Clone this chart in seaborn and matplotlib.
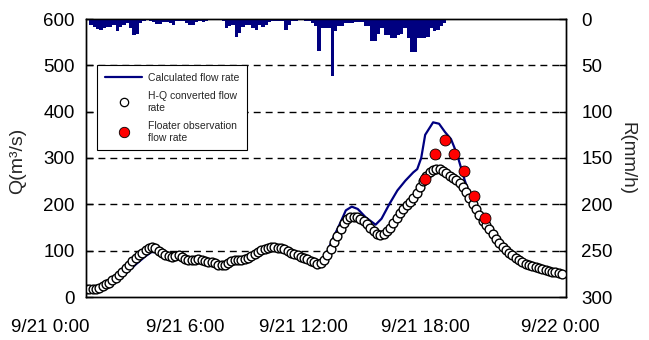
import matplotlib
matplotlib.use("Agg")
import numpy as np
import pandas as pd
import matplotlib.pyplot as plt
import matplotlib.transforms as mtransforms
from matplotlib.lines import Line2D
import seaborn as sns

# ---------------- data ----------------
# rainfall (mm/h), 10-minute bins starting 9/21 0:00
rain_mm = [1, 6, 9, 11, 12, 10, 9, 9, 6, 13, 9, 6, 4, 10, 17, 16, 4, 2, 1, 2,
           3, 5, 5, 3, 3, 4, 7, 2, 2, 2, 4, 7, 6, 3, 2,
           3, 2, 1, 1, 1, 1, 2, 10, 8, 6, 19, 15, 9, 7, 7, 10, 12, 6, 9, 7,
           3, 2, 2, 2, 2, 12, 6, 2, 2, 1, 1, 2, 2, 4, 8,
           34, 10, 10, 10, 62, 13, 8, 8, 4, 4, 4, 3, 3, 3, 8, 8, 24, 24, 16, 10,
           17, 17, 20, 20, 17, 16, 10, 20, 36, 36, 21, 20, 20, 19, 10, 13, 12, 8, 4]
rain_hours = [i / 6 for i in range(len(rain_mm))]

# H-Q converted flow rate (m3/s), every 10 minutes from 0:00 to 24:00
hq_q = [17, 17, 17, 18, 20, 23, 27, 31, 36, 42, 48, 55, 62, 70, 77, 84, 90, 96,
        101, 105, 107, 105, 100, 95, 91, 88, 86, 88, 90, 86, 82, 80, 79, 80, 81, 79,
        77, 76, 75, 73, 70, 68, 69, 73, 77, 79, 80, 80, 82, 84, 88, 93, 97, 101,
        104, 106, 107, 107, 106, 106, 104, 100, 96, 93, 90, 87, 84, 81, 78, 75, 72, 73,
        80, 90, 103, 118, 132, 147, 160, 168, 172, 173, 172, 169, 164, 157, 150, 143, 137, 134,
        136, 142, 150, 160, 170, 181, 191, 199, 206, 214, 225, 237, 250, 261, 269, 275, 277, 276,
        273, 268, 262, 257, 252, 246, 238, 226, 213, 200, 190, 178, 165, 156, 146, 136, 126, 117,
        108, 102, 96, 91, 85, 80, 76, 72, 69, 66, 64, 62, 60, 58, 56, 55, 53, 51, 50]
hq_hours = [i / 6 for i in range(len(hq_q))]

# calculated flow rate (m3/s)
calc_hours = [0, 0.5, 1, 1.5, 2, 2.5, 3, 3.3, 3.7, 4, 4.5, 5, 5.5, 6, 6.5, 7, 7.5, 8,
              8.5, 9, 9.5, 10, 10.5, 11, 11.5, 11.8, 12, 12.4, 12.8, 13.1, 13.4, 13.7,
              14.1, 14.6, 14.9, 15.3, 15.7, 16.1, 16.5, 16.7, 16.9, 17.1, 17.5, 17.8,
              18.1, 18.4, 18.7, 19.1, 19.4, 19.8, 20.1, 20.5, 21, 21.5, 22, 22.5, 23, 23.5, 24]
calc_q = [14, 15, 20, 32, 50, 70, 88, 97, 96, 92, 87, 86, 84, 80, 77, 72, 76, 82,
          92, 102, 106, 105, 97, 87, 78, 74, 80, 122, 158, 187, 195, 190,
          172, 156, 169, 201, 230, 251, 269, 276, 300, 350, 377, 374,
          356, 341, 309, 251, 215, 187, 158, 133, 110, 93, 78, 68, 61, 55, 50]

# floater observation flow rate (m3/s)
float_hours = [17.1, 17.6, 18.1, 18.55, 19.05, 19.55, 20.1]
float_q = [254, 309, 339, 309, 272, 217, 171]

xtick_hours = [0, 6, 12, 18, 24]
xtick_labels = ["9/21 0:00", "9/21 6:00", "9/21 12:00", "9/21 18:00", "9/22 0:00"]
legend_labels = ["Calculated flow rate", "H-Q converted flow\nrate",
                 "Floater observation\nflow rate"]

# ---------------- style ----------------
sns.set_style("white")
plt.rcParams["font.family"] = ["Liberation Sans", "DejaVu Sans"]

fig = plt.figure(figsize=(6.49, 3.40), dpi=100)
ax = fig.add_axes([86 / 649, 1 - 297 / 340, 480 / 649, 278 / 340])
ax.set_facecolor("white")
fig.patch.set_facecolor("white")

calc_df = pd.DataFrame({"t": calc_hours, "q": calc_q})
hq_df = pd.DataFrame({"t": hq_hours, "q": hq_q})
fl_df = pd.DataFrame({"t": float_hours, "q": float_q})

sns.lineplot(data=calc_df, x="t", y="q", ax=ax, color="#000080", linewidth=1.6,
             zorder=3, legend=False)
sns.scatterplot(data=hq_df, x="t", y="q", ax=ax, marker="o", s=40,
                facecolor="white", edgecolor="black", linewidth=1.0, zorder=4,
                legend=False)
sns.scatterplot(data=fl_df, x="t", y="q", ax=ax, marker="o", s=62,
                color="#ff0000", edgecolor="black", linewidth=0.6, zorder=5,
                legend=False)

ax.set_xlim(0, 24.2)
ax.set_ylim(0, 600)
ax.set_yticks(range(0, 601, 100))
ax.set_xticks(xtick_hours)
ax.set_xticks([3, 9, 15, 21], minor=True)
ax.set_xticklabels(xtick_labels)
ax.set_xlabel("")
ax.set_ylabel("Q(m³/s)", fontsize=14)
ax.yaxis.set_label_coords(-0.125, 0.49)

for yv in range(100, 600, 100):
    ax.axhline(yv, color="black", linewidth=1.0, linestyle=(0, (5, 3.6)), zorder=1)

ax.tick_params(axis="y", direction="in", length=5, width=1, labelsize=13.5, pad=8,
               colors="black")
ax.tick_params(axis="x", which="both", direction="in", length=7, width=1,
               labelsize=13.5, pad=16, colors="black")
for sp in ax.spines.values():
    sp.set_color("black")
    sp.set_linewidth(1.0)

# shift x tick labels to match reference placement
offsets_px = [-36, -20, -21, -18, -2]
for lab, off in zip(ax.get_xticklabels(), offsets_px):
    lab.set_transform(lab.get_transform() +
                      mtransforms.ScaledTranslation(off / 100, 0, fig.dpi_scale_trans))

# rainfall axis
ax2 = ax.twinx()
ax2.bar(rain_hours, rain_mm, width=1 / 6, align="edge", color="#000080",
        edgecolor="none", linewidth=0, zorder=2)
ax2.set_ylim(300, 0)
ax2.set_xlim(0, 24.2)
ax2.set_yticks(range(0, 301, 50))
ax2.set_ylabel("R(mm/h)", fontsize=13.5, rotation=270, va="center")
ax2.yaxis.set_label_coords(1.128, 0.5)
ax2.tick_params(axis="y", direction="in", length=5, width=1, labelsize=13.5, pad=11,
                colors="black")
for sp in ax2.spines.values():
    sp.set_color("black")
    sp.set_linewidth(1.0)
ax2.grid(False)
ax.grid(False)

# legend
handles = [
    Line2D([], [], color="#000080", linewidth=1.6),
    Line2D([], [], linestyle="none", marker="o", markersize=6,
           markerfacecolor="white", markeredgecolor="black", markeredgewidth=0.9),
    Line2D([], [], linestyle="none", marker="o", markersize=7.5,
           markerfacecolor="#ff0000", markeredgecolor="black", markeredgewidth=0.6),
]
leg = ax2.legend(handles, legend_labels, loc="upper left",
                 bbox_to_anchor=(0.023, 0.835), borderaxespad=0, fontsize=7.5,
                 frameon=True, fancybox=False, edgecolor="black", framealpha=1,
                 handlelength=3.6, handletextpad=0.5, labelspacing=0.8,
                 borderpad=0.75)
leg.get_frame().set_linewidth(0.8)
leg.set_zorder(10)

fig.savefig("out.png", dpi=100, facecolor="white")
